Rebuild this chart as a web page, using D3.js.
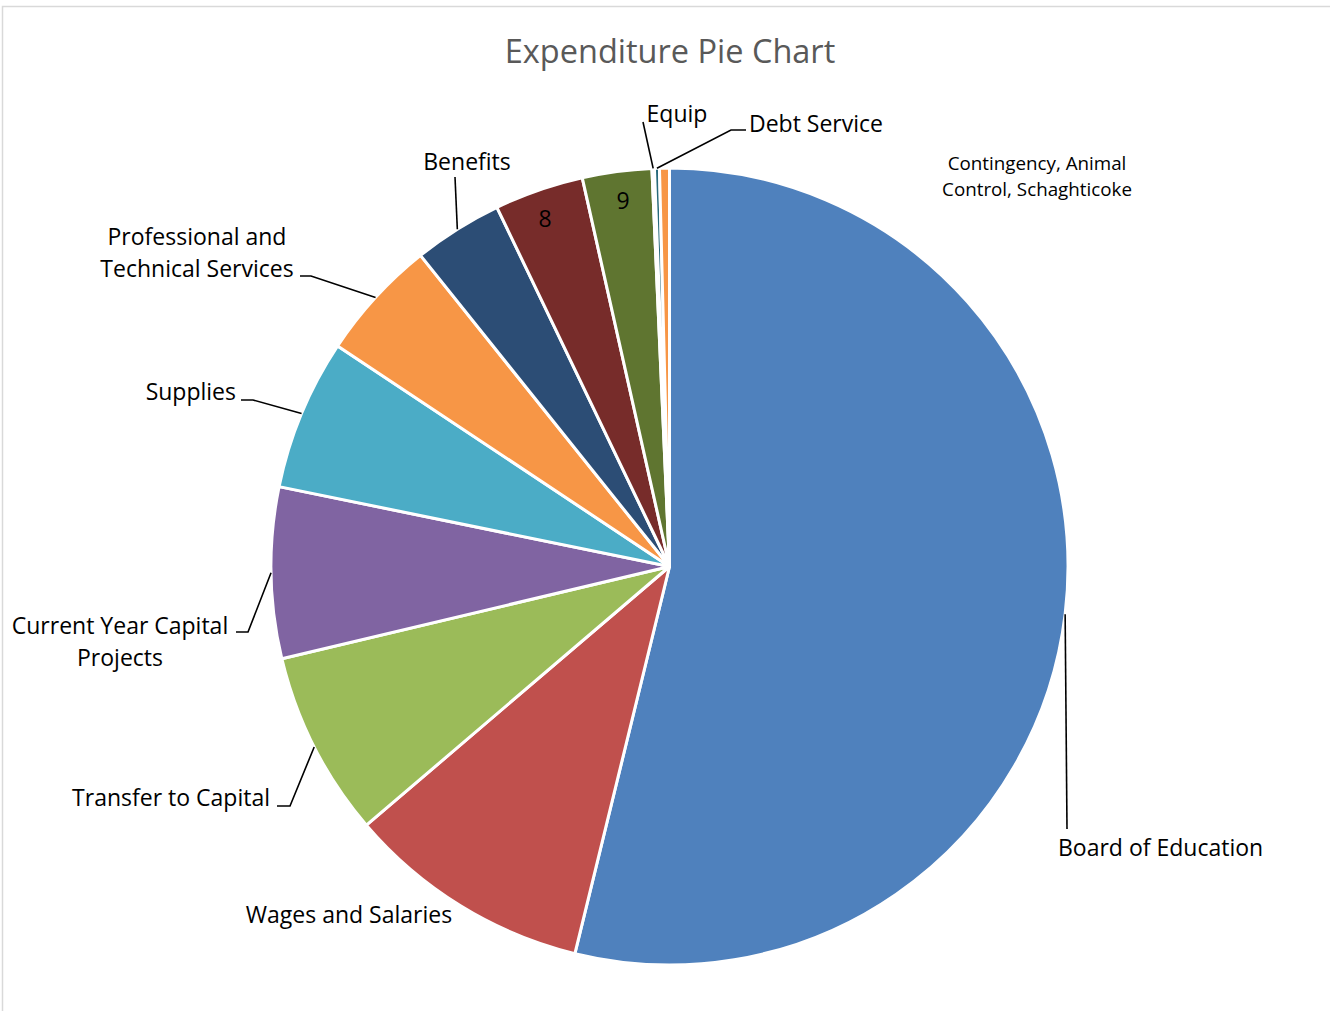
<!DOCTYPE html>
<html>
<head>
<meta charset="utf-8">
<script src="https://cdn.jsdelivr.net/npm/d3@7"></script>
<style>
  body { margin: 0; background: #fff; }
  svg { font-family: "Open Sans", Lato, sans-serif; }
</style>
</head>
<body>
<svg id="chart" width="1330" height="1011"></svg>
<script>
// slice names and values (percent of total), clockwise from 12 o'clock
let categories = ["Board of Education", "Wages and Salaries", "Transfer to Capital",
    "Current Year Capital Projects", "Supplies", "Professional and Technical Services",
    "Benefits", "8", "9", "Equip", "Debt Service", "Contingency, Animal Control, Schaghticoke"];
let values = [53.6, 9.9, 7.5, 6.9, 6.1, 4.9, 3.6, 3.6, 2.8, 0.1, 0.2, 0.4];
let colors = ["#4f81bd", "#c0504d", "#9bbb59", "#8064a2", "#4bacc6", "#f79646",
    "#2c4d75", "#772c2a", "#5f7530", "#4d3b62", "#276a7c", "#f79646"];

// label text lines for each slice
let labelLines = [["Board of Education"], ["Wages and Salaries"], ["Transfer to Capital"],
    ["Current Year Capital", "Projects"], ["Supplies"], ["Professional and", "Technical Services"],
    ["Benefits"], ["8"], ["9"], ["Equip"], ["Debt Service"], ["Contingency, Animal", "Control, Schaghticoke"]];

let cx = 669.5, cy = 566.5, radius = 398.5;

// label layout: x, y of first line centre, anchor, leader start point(s)
let labelLayout = [
    {x: 1058, y: 847, anchor: "start", lead: [[1067, 829]]},
    {x: 349, y: 914, anchor: "middle", lead: null},
    {x: 270, y: 797, anchor: "end", lead: [[277, 806], [290, 806]]},
    {x: 120, y: 625, anchor: "middle", lead: [[236, 632], [248, 632]]},
    {x: 236, y: 391, anchor: "end", lead: [[241, 400], [253, 400]]},
    {x: 197, y: 236, anchor: "middle", lead: [[300, 276], [311, 276]]},
    {x: 467, y: 161, anchor: "middle", lead: [[455, 177]]},
    {x: 545, y: 218, anchor: "middle", lead: null},
    {x: 623, y: 200, anchor: "middle", lead: null},
    {x: 677, y: 113, anchor: "middle", lead: [[643, 122]]},
    {x: 816, y: 123, anchor: "middle", lead: [[746, 130], [731, 130]]},
    {x: 1037, y: 163, anchor: "middle", lead: null, small: true}
];

let svg = d3.select("#chart");

svg.append("rect")
    .attr("x", 2.5).attr("y", 6.5)
    .attr("width", 1340).attr("height", 1020)
    .attr("fill", "none")
    .attr("stroke", "#d9d9d9")
    .attr("stroke-width", 1.5);

svg.append("text")
    .attr("x", 670).attr("y", 50)
    .attr("text-anchor", "middle")
    .attr("dominant-baseline", "central")
    .attr("font-size", 32.5)
    .attr("fill", "#595959")
    .text("Expenditure Pie Chart");

let data = categories.map((c, i) => ({name: c, value: values[i], color: colors[i], i: i}));

let pie = d3.pie().sort(null).value(d => d.value);
let arc = d3.arc().innerRadius(0).outerRadius(radius);
let arcs = pie(data);

let g = svg.append("g").attr("transform", "translate(" + cx + "," + cy + ")");

g.selectAll("path.slice")
    .data(arcs)
    .enter()
    .append("path")
    .attr("class", "slice")
    .attr("d", arc)
    .attr("fill", d => d.data.color)
    .attr("stroke", "#fff")
    .attr("stroke-width", 3)
    .attr("stroke-linejoin", "round");

// leader lines: from label to the mid-angle point on the rim
arcs.forEach(function (a) {
    let lay = labelLayout[a.data.i];
    if (!lay.lead) {
        return;
    }
    let mid = (a.startAngle + a.endAngle) / 2;
    let end = [cx + radius * Math.sin(mid), cy - radius * Math.cos(mid)];
    let pts = lay.lead.concat([end]);
    svg.append("path")
        .attr("d", d3.line()(pts))
        .attr("fill", "none")
        .attr("stroke", "#000")
        .attr("stroke-width", 1.6);
});

// labels
labelLayout.forEach(function (lay, i) {
    let lines = labelLines[i];
    let size = lay.small ? 18.8 : 23;
    let step = lay.small ? 26 : 32;
    let t = svg.append("text")
        .attr("text-anchor", lay.anchor)
        .attr("font-size", size)
        .attr("fill", "#000");
    lines.forEach(function (line, k) {
        t.append("tspan")
            .attr("x", lay.x)
            .attr("y", lay.y + k * step)
            .attr("dominant-baseline", "central")
            .text(line);
    });
});
</script>
</body>
</html>
